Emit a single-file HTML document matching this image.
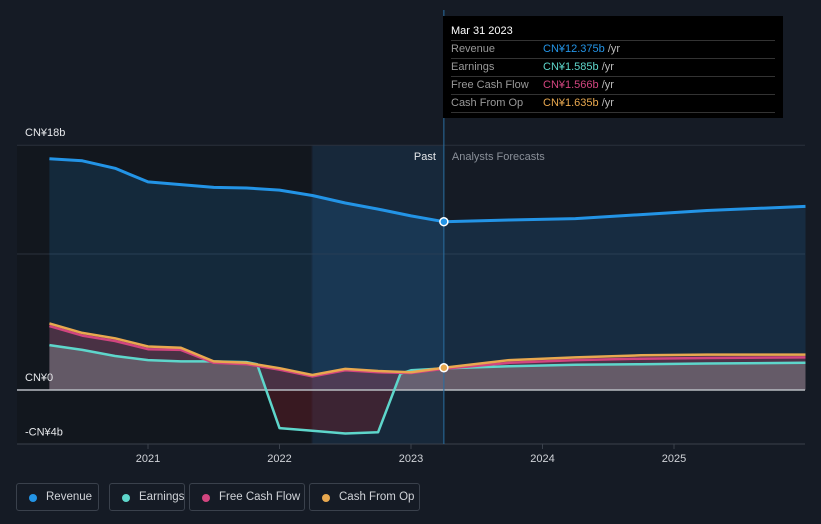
<!DOCTYPE html>
<html><head><meta charset="utf-8"><style>
body{margin:0;background:#151b25;font-family:"Liberation Sans",sans-serif;}
svg{display:block}
.leg{position:absolute;top:483px;height:28px;border:1px solid #3a414c;border-radius:3px;color:#d0d3d8;font-size:11.5px;line-height:26px;box-sizing:border-box;padding-left:29px;white-space:nowrap}
.leg i{position:absolute;left:12px;top:10px;width:8px;height:8px;border-radius:50%}
</style></head><body>
<div style="position:relative;width:821px;height:524px;overflow:hidden">
<svg id="c" width="821" height="524">
<defs><clipPath id="pos"><rect x="0" y="0" width="821" height="390"/></clipPath><clipPath id="neg"><rect x="0" y="390" width="821" height="134"/></clipPath></defs>
</svg>
<div class="leg" style="left:16px;width:83px"><i style="background:#2394e6"></i>Revenue</div>
<div class="leg" style="left:109px;width:76px"><i style="background:#5ed6cb"></i>Earnings</div>
<div class="leg" style="left:189px;width:116px"><i style="background:#d2457f"></i>Free Cash Flow</div>
<div class="leg" style="left:309px;width:111px"><i style="background:#e8a84f"></i>Cash From Op</div>
<div style="position:absolute;left:443px;top:16px;width:340px;height:102px;background:#000;color:#fff;font-size:11px">
<div style="position:absolute;left:8px;top:9px">Mar 31 2023</div>
<div style="position:absolute;left:8px;top:24px;width:324px;color:#999;line-height:17px">
<div style="position:relative;border-top:1px solid #333;border-bottom:1px solid #333">Revenue<span style="position:absolute;left:92px;color:#2394e6">CN¥12.375b <span style="color:#bbb">/yr</span></span></div>
<div style="border-bottom:1px solid #333;position:relative">Earnings<span style="position:absolute;left:92px;color:#5ed6cb">CN¥1.585b <span style="color:#bbb">/yr</span></span></div>
<div style="border-bottom:1px solid #333;position:relative">Free Cash Flow<span style="position:absolute;left:92px;color:#d2457f">CN¥1.566b <span style="color:#bbb">/yr</span></span></div>
<div style="border-bottom:1px solid #333;position:relative">Cash From Op<span style="position:absolute;left:92px;color:#e8a84f">CN¥1.635b <span style="color:#bbb">/yr</span></span></div>
</div></div>
</div>
<script>
const revT=[2020.25,2020.5,2020.75,2021,2021.25,2021.5,2021.75,2022,2022.25,2022.5,2022.75,2023,2023.25,2023.75,2024.25,2024.75,2025.25,2026];
const revV=[17.0,16.85,16.3,15.3,15.1,14.9,14.85,14.7,14.3,13.75,13.3,12.8,12.375,12.5,12.6,12.9,13.2,13.5];
const cfT=[2020.25,2020.5,2020.75,2021,2021.25,2021.5,2021.75,2022,2022.25,2022.5,2022.75,2023,2023.25,2023.75,2024.25,2024.75,2025.25,2026];
const cfoV=[4.9,4.2,3.8,3.2,3.1,2.1,2.0,1.6,1.1,1.55,1.4,1.3,1.635,2.2,2.4,2.55,2.6,2.6];
const fcfV=[4.7,4.0,3.6,3.0,2.95,2.0,1.9,1.5,1.0,1.45,1.3,1.25,1.566,2.0,2.2,2.3,2.35,2.4];
const earT=[2020.25,2020.5,2020.75,2021,2021.25,2021.5,2021.75,2021.83,2022,2022.25,2022.5,2022.75,2022.92,2023,2023.25,2023.75,2024.25,2024.75,2025.25,2026];
const earV=[3.3,2.95,2.5,2.2,2.1,2.1,2.05,1.9,-2.8,-3.0,-3.2,-3.1,1.2,1.45,1.585,1.75,1.85,1.9,1.95,2.0];
const yTicks=[18,0,-4],yLabels=["CN¥18b","CN¥0","-CN¥4b"];
const xTicks=[2021,2022,2023,2024,2025];
const X=t=>148+(t-2021)*131.5, Y=v=>390-v*13.6;
const NS="http://www.w3.org/2000/svg",svg=document.getElementById('c');
function mk(tag,a,name){const e=document.createElementNS(NS,tag);for(const k in a)e.setAttribute(k,a[k]);


svg.appendChild(e);return e;}
const tNow=2023.25;
mk('rect',{x:17,y:145,width:294,height:299,fill:'#12171e'},'past-bg');
mk('rect',{x:X(2022.25),y:145,width:X(tNow)-X(2022.25),height:299,fill:'rgba(40,110,170,0.16)'},'past-highlight');
mk('line',{x1:17,x2:805,y1:Y(10),y2:Y(10),stroke:'#2a313c'},'gridline');
mk('line',{x1:17,x2:805,y1:Y(18),y2:Y(18),stroke:'#2a313c'},'gridline-top');
const pts=(T,V)=>T.map((t,i)=>X(t).toFixed(1)+','+Y(V[i]).toFixed(1));
const area=(T,V)=>'M'+X(T[0])+','+Y(0)+' L'+pts(T,V).join(' L')+' L'+X(T[T.length-1])+','+Y(0)+'Z';
mk('path',{d:area(revT,revV),fill:'rgba(35,130,210,0.17)'},'revenue-area');
mk('path',{d:area(cfT,cfoV),fill:'rgba(200,70,90,0.3)'},'cfo-area');
mk('path',{d:area(earT,earV),fill:'rgba(150,165,165,0.35)','clip-path':'url(#pos)'},'earnings-area');
mk('path',{d:area(earT,earV),fill:'rgba(130,30,40,0.35)','clip-path':'url(#neg)'},'earnings-negative-area');
mk('line',{x1:17,x2:805,y1:Y(0),y2:Y(0),stroke:'#b8bcc2','stroke-width':1.5},'zero-line');
mk('line',{x1:17,x2:805,y1:444,y2:444,stroke:'#3a414c'},'x-axis');
mk('line',{x1:X(tNow),x2:X(tNow),y1:10,y2:444,stroke:'#2a6ea0'},'now-line');
const line=(T,V,c,n,w)=>mk('polyline',{points:pts(T,V).join(' '),fill:'none',stroke:c,'stroke-width':w||2.5,'stroke-linejoin':'round'},n);
line(revT,revV,'#2394e6','revenue-line',3);
line(earT,earV,'#5ed6cb','earnings-line');
line(cfT,fcfV,'#d2457f','fcf-line');
line(cfT,cfoV,'#e8a84f','cfo-line');
mk('circle',{cx:X(tNow),cy:Y(revV[12]),r:4,fill:'#2394e6',stroke:'#fff','stroke-width':1.5},'revenue-dot');
mk('circle',{cx:X(tNow),cy:Y(cfoV[12]),r:4,fill:'#e8a84f',stroke:'#fff','stroke-width':1.5},'cfo-dot');
yTicks.forEach((v,i)=>{const t=mk('text',{x:25,y:Y(v)-9,fill:'#e6e8eb','font-size':11},'y-tick-label');t.textContent=yLabels[i];});
xTicks.forEach(v=>{mk('line',{x1:X(v),x2:X(v),y1:444,y2:449,stroke:'#3a414c'},'x-tick');
const t=mk('text',{x:X(v),y:462,fill:'#d0d3d8','font-size':11,'text-anchor':'middle'},'x-tick-label');t.textContent=v;});
let t=mk('text',{x:X(tNow)-8,y:160,fill:'#e6e8eb','font-size':11,'text-anchor':'end'},'past-label');t.textContent='Past';
t=mk('text',{x:X(tNow)+8,y:160,fill:'#8a9099','font-size':11},'forecast-label');t.textContent='Analysts Forecasts';
</script>
</body></html>
